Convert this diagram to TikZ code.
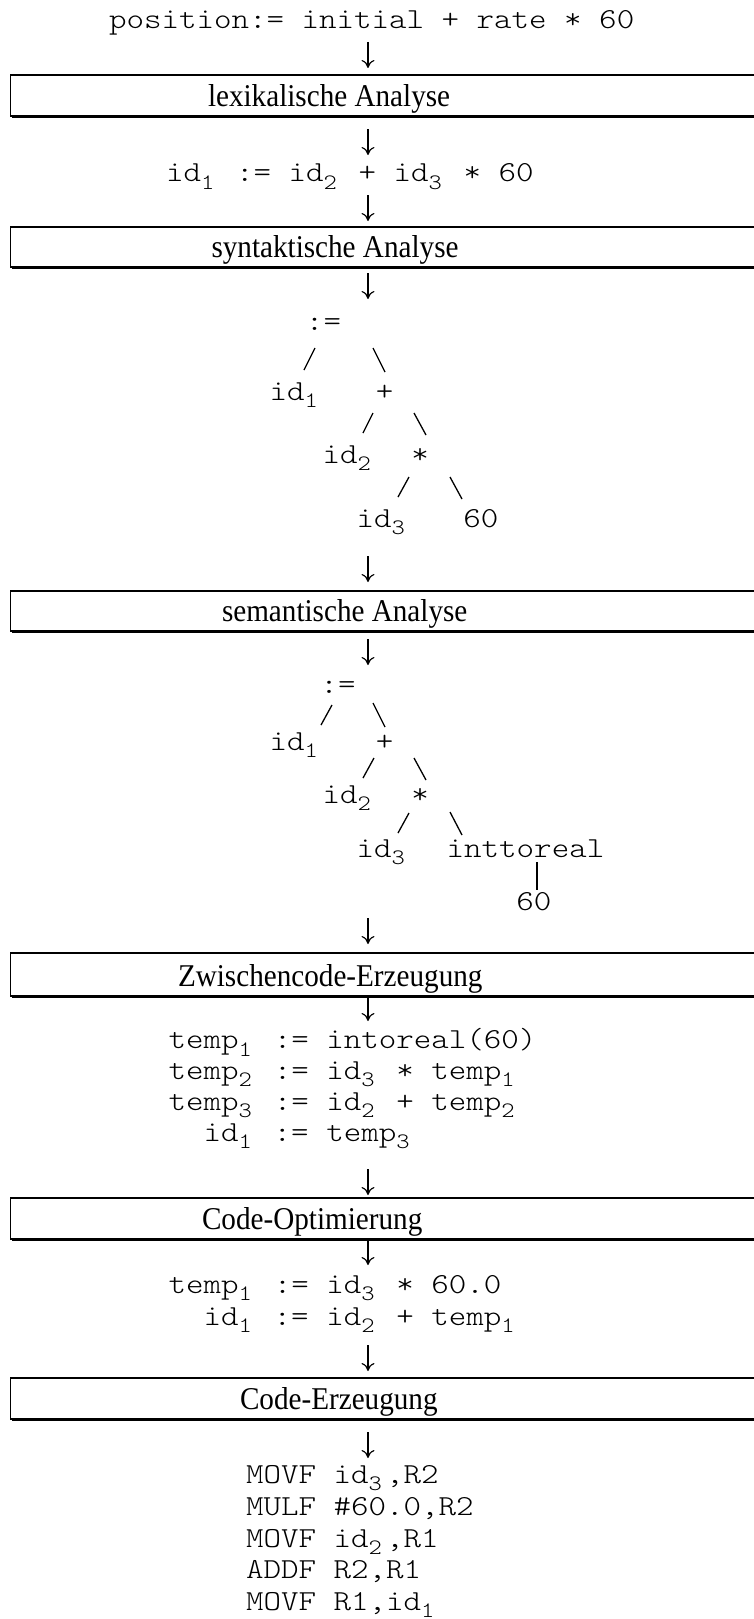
\documentclass[tikz,border=0pt]{standalone}
\usepackage{fontspec}
\usetikzlibrary{calc,shadows,arrows.meta}
\newfontfamily\codefont{lmmonolt10-regular.otf}[FakeStretch=1.15]
\newfontfamily\stagefont{Liberation Serif}[FakeStretch=0.92]
\newcommand\subs[1]{\makebox[17.51pt][l]{\raisebox{-7.5pt}{\fontsize{22}{22}\selectfont #1}}}
\begin{document}
\begin{tikzpicture}[x=1pt,y=-1pt,
  code/.style={inner sep=0pt,outer sep=0pt,anchor=base west,font=\codefont\fontsize{29}{29}\selectfont},
  op/.style={code,anchor=base},
  stagebox/.style={draw,line width=1.6pt,fill=white,inner sep=0pt,outer sep=0pt,anchor=north west,minimum width=800pt,
    drop shadow={shadow xshift=1.8pt,shadow yshift=-1.8pt,opacity=1,fill=black}},
  stagelabel/.style={inner sep=0pt,outer sep=0pt,anchor=base west,font=\stagefont\fontsize{31.7}{31.7}\selectfont},
  arr/.style={line width=1.2pt,-{To[length=8pt,width=13pt]}},
  branch/.style={line width=1.3pt}]
\useasboundingbox (0,0) rectangle (754,1619);
\coordinate (ax) at (368,0);

% stage boxes
\node[stagebox,minimum height=41pt] (b1) at (10.5,75) {};
\node[stagelabel] (b1t) at (208,106.5) {lexikalische Analyse};
\node[stagebox,minimum height=40pt] (b2) at (10.5,226.7) {};
\node[stagelabel] (b2t) at (211.5,257.2) {syntaktische Analyse};
\node[stagebox,minimum height=40.3pt] (b3) at (10.5,590.7) {};
\node[stagelabel] (b3t) at (222,621.5) {semantische Analyse};
\node[stagebox,minimum height=43pt] (b4) at (10.5,953) {};
\node[stagelabel] (b4t) at (178,986.5) {Zwischencode-Erzeugung};
\node[stagebox,minimum height=41pt] (b5) at (10.5,1198) {};
\node[stagelabel] (b5t) at (202,1229.5) {Code-Optimierung};
\node[stagebox,minimum height=41pt] (b6) at (10.5,1378) {};
\node[stagelabel] (b6t) at (240,1409.5) {Code-Erzeugung};

% source and token lines
\node[code] (l1) at (109,28.3) {position:= initial + rate * 60};
\node[code] (l2) at (166,181.7) {id\subs{1} := id\subs{2} + id\subs{3} * 60};

% syntax tree
\node[op] (sA) at (323.5,330) {:=};
\node[code] (sI1) at (269.7,400) {id\subs{1}};
\node[op] (sP) at (384.5,400) {+};
\node[code] (sI2) at (322.7,463) {id\subs{2}};
\node[op] (sM) at (420,463) {*};
\node[code] (sI3) at (356.7,527) {id\subs{3}};
\node[code] (s60) at (463.3,527) {60};
\draw[branch] ($(sA.base)+(-8.5,18)$) -- ($(sI1.base west)+(34.3,-30)$);
\draw[branch] ($(sA.base)+(49.5,18)$) -- ($(sP.base)+(0.5,-28)$);
\draw[branch] ($(sP.base)+(-11.5,13)$) -- ($(sI2.base west)+(40.3,-30)$);
\draw[branch] ($(sP.base)+(29.5,13)$) -- ($(sM.base)+(6,-28)$);
\draw[branch] ($(sM.base)+(-11,14)$) -- ($(sI3.base west)+(41.3,-30)$);
\draw[branch] ($(sM.base)+(30,14)$) -- ($(s60.base west)+(-1.3,-28)$);

% semantic tree
\node[op] (tA) at (338,693) {:=};
\node[code] (tI1) at (269.7,750) {id\subs{1}};
\node[op] (tP) at (384.5,750) {+};
\node[code] (tI2) at (322.7,803) {id\subs{2}};
\node[op] (tM) at (420,803) {*};
\node[code] (tI3) at (356.7,857) {id\subs{3}};
\node[code] (tR) at (446.7,857) {inttoreal};
\node[code] (t60) at (516.3,910) {60};
\draw[branch] ($(tA.base)+(-6,12)$) -- ($(tI1.base west)+(51.3,-25)$);
\draw[branch] ($(tA.base)+(35,10)$) -- ($(tP.base)+(0.5,-23)$);
\draw[branch] ($(tP.base)+(-10.5,8)$) -- ($(tI2.base west)+(40.3,-25)$);
\draw[branch] ($(tP.base)+(29.5,8)$) -- ($(tM.base)+(6,-23)$);
\draw[branch] ($(tM.base)+(-11,10)$) -- ($(tI3.base west)+(41.3,-24)$);
\draw[branch] ($(tM.base)+(30,9)$) -- ($(tR.base west)+(15.3,-22)$);
\draw[branch] ($(tR.base west)+(90.3,5)$) -- ($(t60.base west)+(20.7,-20)$);

% intermediate code
\node[code] (z1) at (168.7,1048.5) {temp\subs{1} := intoreal(60)};
\node[code] (z2) at (168.7,1079) {temp\subs{2} := id\subs{3} * temp\subs{1}};
\node[code] (z3) at (168.7,1110) {temp\subs{3} := id\subs{2} + temp\subs{2}};
\node[code] (z4) at (203.7,1141) {id\subs{1} := temp\subs{3}};

% optimized code
\node[code] (o1) at (168.7,1293) {temp\subs{1} := id\subs{3} * 60.0};
\node[code] (o2) at (203.7,1325) {id\subs{1} := id\subs{2} + temp\subs{1}};

% target code
\node[code] (m1) at (246,1483) {MOVF id\subs{3},R2};
\node[code] (m2) at (246,1515) {MULF \#60.0,R2};
\node[code] (m3) at (246,1547) {MOVF id\subs{2},R1};
\node[code] (m4) at (246,1578) {ADDF R2,R1};
\node[code] (m5) at (246,1610) {MOVF R1,id\subs{1}};

% arrows
\draw[arr] ($(ax|-l1.base)+(0,13.7)$) -- ($(ax|-b1.north)+(0,-7)$);
\draw[arr] ($(ax|-b1.south)+(0,13)$) -- ($(ax|-l2.base)+(0,-26.7)$);
\draw[arr] ($(ax|-l2.base)+(0,13.3)$) -- ($(ax|-b2.north)+(0,-5.7)$);
\draw[arr] ($(ax|-b2.south)+(0,6.3)$) -- ($(ax|-sA.base)+(0,-31)$);
\draw[arr] ($(ax|-sI3.base)+(0,29)$) -- ($(ax|-b3.north)+(0,-8.7)$);
\draw[arr] ($(ax|-b3.south)+(0,8)$) -- ($(ax|-tA.base)+(0,-28)$);
\draw[arr] ($(ax|-t60.base)+(0,8)$) -- ($(ax|-b4.north)+(0,-9)$);
\draw[arr] ($(ax|-b4.south)+(0,-1)$) -- ($(ax|-z1.base)+(0,-27.5)$);
\draw[arr] ($(ax|-z4.base)+(0,28)$) -- ($(ax|-b5.north)+(0,-3)$);
\draw[arr] ($(ax|-b5.south)+(0,0)$) -- ($(ax|-o1.base)+(0,-28)$);
\draw[arr] ($(ax|-o2.base)+(0,20)$) -- ($(ax|-b6.north)+(0,-7)$);
\draw[arr] ($(ax|-b6.south)+(0,13)$) -- ($(ax|-m1.base)+(0,-25)$);
\end{tikzpicture}
\end{document}
